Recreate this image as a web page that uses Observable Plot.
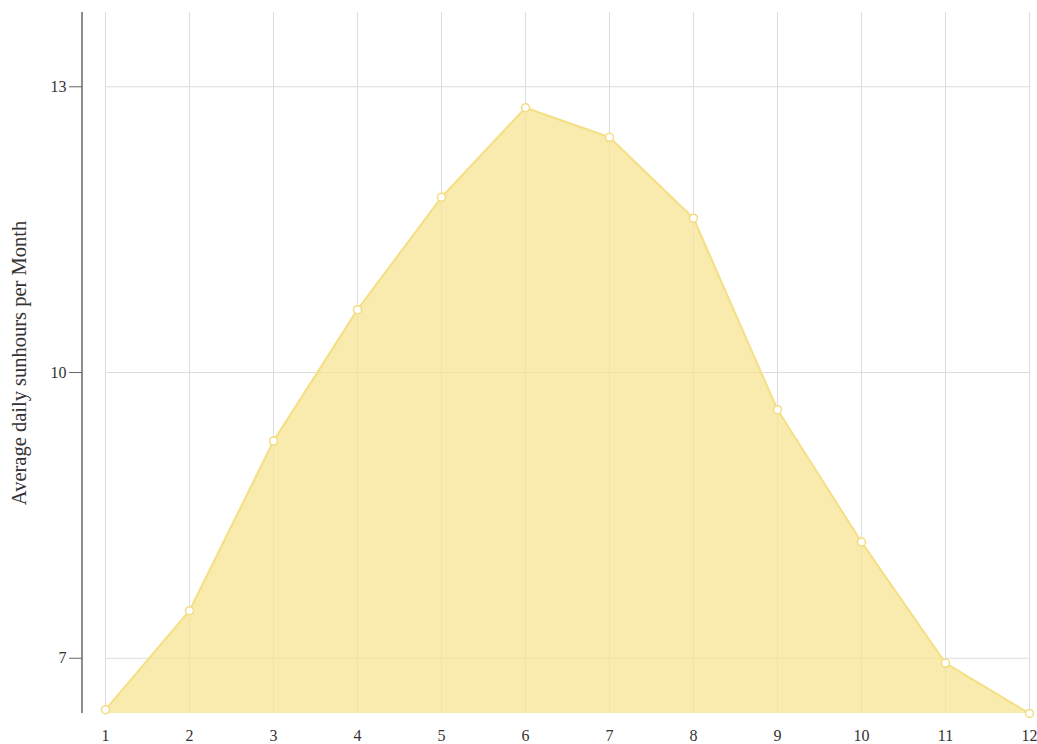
<!DOCTYPE html>
<html>
<head>
<meta charset="utf-8">
<script src="https://cdn.jsdelivr.net/npm/d3@7"></script>
<script src="https://cdn.jsdelivr.net/npm/@observablehq/plot@0.6"></script>
<style>
  html, body { margin: 0; padding: 0; background: #fff; }
  #chart svg { display: block; }
</style>
</head>
<body>
<div id="chart"></div>
<script>
const months = [1, 2, 3, 4, 5, 6, 7, 8, 9, 10, 11, 12];
const sunhours = [6.46, 7.50, 9.28, 10.66, 11.84, 12.78, 12.47, 11.62, 9.61, 8.22, 6.95, 6.42];
const yTicks = [7, 10, 13];
const yLabel = "Average daily sunhours per Month";

const data = months.map((m, i) => ({month: m, value: sunhours[i]}));
const yMin = d3.min(sunhours);

// y-axis line along the left edge of the frame
const axisLine = (index, scales, values, dimensions) => {
  const {marginLeft, marginTop, height, marginBottom} = dimensions;
  const g = d3.create("svg:g");
  g.append("line")
    .attr("x1", marginLeft).attr("x2", marginLeft)
    .attr("y1", marginTop).attr("y2", height - marginBottom)
    .attr("stroke", "#666").attr("stroke-width", 1.5);
  return g.node();
};

const chart = Plot.plot({
  width: 1037,
  height: 744,
  marginLeft: 82,
  marginRight: 8,
  marginTop: 12,
  marginBottom: 31,
  insetLeft: 23,
  style: {fontFamily: "'Liberation Serif', 'DejaVu Serif', serif", fontSize: "16px", color: "#333", background: "#fff"},
  x: {domain: [months[0], months[months.length - 1]]},
  y: {domain: [yMin, 13.78]},
  marks: [
    Plot.ruleX(months, {x: d => d, stroke: "#ddd", strokeWidth: 1}),
    Plot.ruleY(yTicks, {y: d => d, x1: months[0], x2: months[months.length - 1], stroke: "#ddd", strokeWidth: 1}),
    Plot.areaY(data, {x: "month", y1: yMin, y2: "value", fill: "#f7e392", fillOpacity: 0.75}),
    Plot.lineY(data, {x: "month", y: "value", stroke: "#f5df85", strokeWidth: 2}),
    Plot.dot(data, {x: "month", y: "value", r: 4, fill: "#fff", stroke: "#f3dc80", strokeWidth: 1.5}),
    Plot.axisX(months, {tickSize: 0, tickPadding: 16, tickFormat: d => String(d), label: null, fontSize: 16}),
    Plot.axisY(yTicks, {tickSize: 13, tickPadding: 3, tickFormat: d => String(d), label: null, fontSize: 16, stroke: "#666"}),
    axisLine,
    Plot.text([yLabel], {text: d => d, frameAnchor: "left", textAnchor: "middle", lineAnchor: "middle", rotate: -90, dx: -63, fontSize: 20.5, fill: "#333"})
  ]
});
document.getElementById("chart").appendChild(chart);
</script>
</body>
</html>
